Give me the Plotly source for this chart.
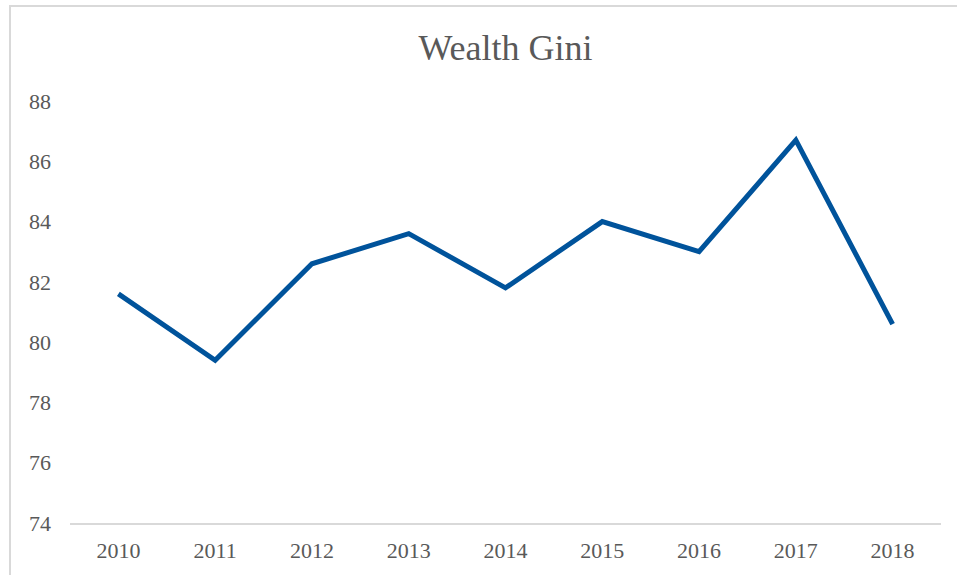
import plotly.graph_objects as go

years = ["2010", "2011", "2012", "2013", "2014", "2015", "2016", "2017", "2018"]
gini = [81.6, 79.4, 82.6, 83.6, 81.8, 84.0, 83.0, 86.7, 80.6]
y_ticks = [74, 76, 78, 80, 82, 84, 86, 88]

FONT = "Liberation Serif"
GREY = "#595959"

W, H = 957, 575
L, T, R, B = 70, 101, 16, 52
PW, PH = W - L - R, H - T - B

fig = go.Figure()
fig.add_trace(go.Scatter(
    x=years, y=gini, mode="lines",
    line=dict(color="#00539b", width=5),
    showlegend=False, hoverinfo="x+y",
))

fig.update_layout(
    width=W, height=H,
    margin=dict(l=L, r=R, t=T, b=B),
    paper_bgcolor="white", plot_bgcolor="white",
    title=dict(text="Wealth Gini", x=0.5, xanchor="center", xref="paper",
               y=1 - 47 / H, yref="container", yanchor="middle",
               font=dict(family=FONT, size=36, color=GREY)),
    font=dict(family=FONT, color=GREY, size=22),
    xaxis=dict(type="category", range=[-0.5, 8.5], showgrid=False,
               showline=True, linecolor="#d9d9d9", linewidth=1.5,
               ticks="", tickfont=dict(size=22, color=GREY),
               ticklabelstandoff=7, zeroline=False),
    yaxis=dict(range=[74, 88], tickvals=y_ticks, showgrid=False,
               showline=False, zeroline=False, ticks="",
               tickfont=dict(size=22, color=GREY), ticklabelstandoff=18),
    shapes=[dict(type="rect", xref="paper", yref="paper",
                 x0=(10 - L) / PW, x1=1.2, y0=-0.3, y1=(T + PH - 6) / PH,
                 line=dict(color="#d9d9d9", width=2), layer="below")],
)

fig.write_html(
    "out.html",
    config={"displayModeBar": False},
    post_script="document.body.style.margin='0';document.body.style.padding='0';",
)
